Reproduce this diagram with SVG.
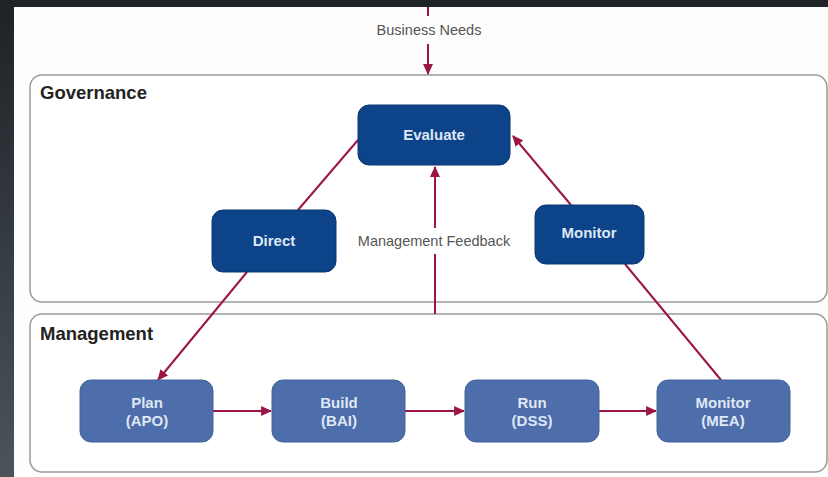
<svg xmlns="http://www.w3.org/2000/svg" width="828" height="477" viewBox="0 0 828 477">
<defs>
<linearGradient id="side" x1="0" y1="0" x2="0" y2="1">
<stop offset="0" stop-color="#1d2226"/>
<stop offset="1" stop-color="#4b545b"/>
</linearGradient>
<marker id="ah" viewBox="0 0 10 10" refX="9" refY="5" markerWidth="11" markerHeight="11" markerUnits="userSpaceOnUse" orient="auto">
<path d="M0,0.5 L10,5 L0,9.5 z" fill="#9c1546"/>
</marker>
<style>
.lbl{font-family:"Liberation Sans",Arial,sans-serif;font-weight:bold;fill:#222;font-size:18.5px}
.cap{font-family:"Liberation Sans",Arial,sans-serif;fill:#555;font-size:14.5px;text-anchor:middle}
.gov{fill:#0c4389;stroke:#0a3670;stroke-width:1}
.mgt{fill:#4e6dab;stroke:#456399;stroke-width:1}
.nt{font-family:"Liberation Sans",Arial,sans-serif;font-weight:bold;fill:#dfe7f4;font-size:15px;text-anchor:middle}
.ln{stroke:#9c1546;stroke-width:2;fill:none}
.frame{fill:#fff;stroke:#9a9a9a;stroke-width:1.5}
</style>
</defs>
<rect x="0" y="0" width="828" height="477" fill="#fdfdfd"/>
<rect x="0" y="0" width="14" height="477" fill="url(#side)"/>
<rect x="0" y="0" width="828" height="7" fill="#1f2428"/>

<g id="governance">
<rect class="frame" x="30" y="75" width="797" height="227" rx="12"/>
<text class="lbl" x="40" y="99">Governance</text>
</g>
<g id="management">
<rect class="frame" x="30" y="314" width="797" height="158" rx="12" stroke="#c9aab2"/>
<text class="lbl" x="40" y="340">Management</text>
</g>

<g id="connectors">
<line class="ln" x1="428" y1="7" x2="428" y2="16" stroke-width="1.5"/>
<line class="ln" x1="428" y1="44" x2="428" y2="74" marker-end="url(#ah)"/>
<line class="ln" x1="435" y1="228" x2="435" y2="167" marker-end="url(#ah)"/>
<line class="ln" x1="435" y1="314" x2="435" y2="254"/>
<line class="ln" x1="298" y1="210" x2="358" y2="140"/>
<line class="ln" x1="247" y1="272" x2="158" y2="380" marker-end="url(#ah)"/>
<line class="ln" x1="571" y1="205" x2="513" y2="136" marker-end="url(#ah)"/>
<line class="ln" x1="721" y1="380" x2="625" y2="264"/>
<line class="ln" x1="213" y1="411" x2="271" y2="411" marker-end="url(#ah)"/>
<line class="ln" x1="405" y1="411" x2="464" y2="411" marker-end="url(#ah)"/>
<line class="ln" x1="599" y1="411" x2="656" y2="411" marker-end="url(#ah)"/>
<text class="cap" x="429" y="35">Business Needs</text>
<text class="cap" x="434" y="246">Management Feedback</text>
</g>

<g id="evaluate">
<rect class="gov" x="358" y="105" width="152" height="60" rx="11"/>
<text class="nt" x="434" y="140">Evaluate</text>
</g>
<g id="direct">
<rect class="gov" x="212" y="210" width="124" height="62" rx="11"/>
<text class="nt" x="274" y="246">Direct</text>
</g>
<g id="monitor-gov">
<rect class="gov" x="535" y="205" width="109" height="59" rx="11"/>
<text class="nt" x="589" y="238">Monitor</text>
</g>
<g id="plan">
<rect class="mgt" x="80" y="380" width="133" height="62" rx="11"/>
<text class="nt" x="147" y="408">Plan</text>
<text class="nt" x="147" y="426">(APO)</text>
</g>
<g id="build">
<rect class="mgt" x="272" y="380" width="133" height="62" rx="11"/>
<text class="nt" x="339" y="408">Build</text>
<text class="nt" x="339" y="426">(BAI)</text>
</g>
<g id="run">
<rect class="mgt" x="465" y="380" width="134" height="62" rx="11"/>
<text class="nt" x="532" y="408">Run</text>
<text class="nt" x="532" y="426">(DSS)</text>
</g>
<g id="monitor-mea">
<rect class="mgt" x="657" y="380" width="133" height="62" rx="11"/>
<text class="nt" x="723" y="408">Monitor</text>
<text class="nt" x="723" y="426">(MEA)</text>
</g>
</svg>
